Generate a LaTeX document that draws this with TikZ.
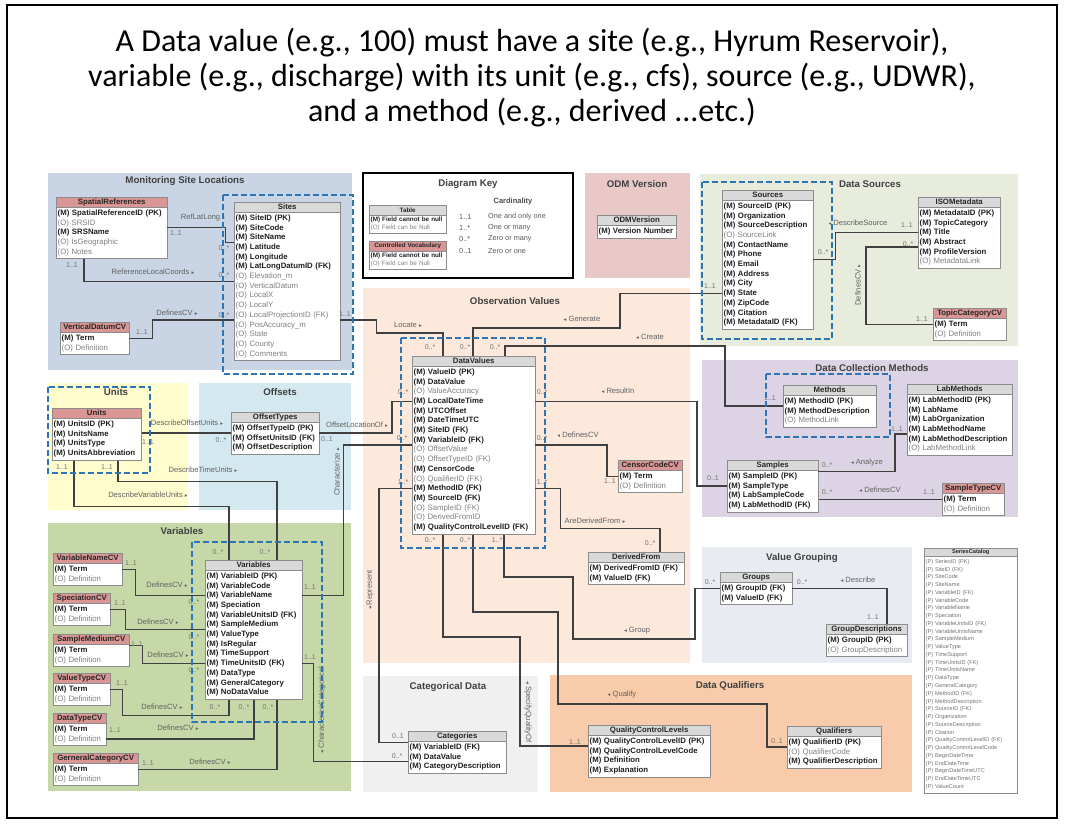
\documentclass[tikz,border=0pt]{standalone}
\usepackage{fontspec}
\setmainfont{Liberation Sans}
\newfontfamily\titlefont{Carlito}
\newfontfamily\djv{DejaVu Sans}
\newcommand\rtri{{\djv\fontsize{5.5}{5.5}\selectfont ▸}}
\newcommand\ltri{{\djv\fontsize{5.5}{5.5}\selectfont ◂}}
\definecolor{monbg}{RGB}{201,213,229}
\definecolor{srcbg}{RGB}{231,236,221}
\definecolor{odmbg}{RGB}{233,201,200}
\definecolor{unitbg}{RGB}{255,252,206}
\definecolor{offbg}{RGB}{211,232,239}
\definecolor{obsbg}{RGB}{252,233,220}
\definecolor{dcmbg}{RGB}{220,212,229}
\definecolor{varbg}{RGB}{199,216,168}
\definecolor{catbg}{RGB}{240,240,240}
\definecolor{dqbg}{RGB}{248,204,170}
\definecolor{vgbg}{RGB}{232,236,242}
\definecolor{cvred}{RGB}{218,150,148}
\definecolor{hdgray}{RGB}{217,217,217}
\definecolor{hlblue}{RGB}{46,117,182}
\def\tfs{7.8}\def\hdh{10}\def\rowh{9.7}\def\tpad{1.5}
\newcommand\rfont{\fontsize{\tfs}{\tfs}\selectfont}
\newcommand\hfont{\fontsize{\tfs}{\tfs}\selectfont\bfseries}
\tikzset{
 conn/.style={draw=black!75, line width=1.3pt},
 hdgray/.style={draw=black!45, fill=hdgray, font=\hfont, text=black!85, inner sep=0pt},
 hdred/.style={draw=black!45, fill=cvred, font=\hfont, text=black!85, inner sep=0pt},
 tbox/.style={draw=black!45, fill=white, line width=0.8pt, inner sep=0pt},
 rowM/.style={font=\rfont\bfseries, text=black!88},
 rowO/.style={font=\rfont, text=black!50},
 rowP/.style={font=\rfont, text=black!55},
 card/.style={font=\fontsize{7}{7}\selectfont, text=black!55, inner sep=0pt},
 rel/.style={font=\fontsize{7.6}{7.6}\selectfont, text=black!62, inner sep=0pt},
 grp/.style={font=\fontsize{9.7}{10}\selectfont\bfseries, text=black!75, inner sep=0pt},
 keytx/.style={font=\fontsize{7.3}{7.3}\selectfont, text=black!65, inner sep=0pt, anchor=west},
 hl/.style={draw=hlblue, line width=2.4pt, dash pattern=on 6pt off 3pt},
}
\newcommand\dbt[7]{%
  \foreach \rk/\rtx [count=\i] in {#7} {\xdef\nrw{\i}}%
  \pgfmathsetmacro\tbh{\hdh+2*\tpad+\nrw*\rowh}%
  \pgfmathsetmacro\tw{#4-3}%
  \node[tbox, minimum width=#4pt, minimum height=\tbh pt, anchor=north west] (#1) at (#2,#3) {};
  \node[hd#5, minimum width=#4pt, minimum height=\hdh pt, anchor=north west] (#1-h) at (#2,#3) {#6};
  \foreach \rk/\rtx [count=\i] in {#7} {
    \node[row\rk, text width=\tw pt, inner xsep=1.5pt, inner ysep=0pt, minimum height=\rowh pt, anchor=west, align=left] (#1-\i) at (#2, #3+\hdh+\tpad+\i*\rowh-0.5*\rowh) {(\rk)~\rtx};
  }%
}
\begin{document}
\begin{tikzpicture}[x=1pt,y=-1pt]
\useasboundingbox (0,0) rectangle (1066,826);
\fill[white] (0,0) rectangle (1066,826);
\draw[line width=1.4pt] (7,5) rectangle (1057,818);
\node[font=\titlefont\fontsize{32}{35}\selectfont, align=center, inner sep=0pt] (title) at (532,78)
 {A Data value (e.g., 100) must have a site (e.g., Hyrum Reservoir),\\ variable (e.g., discharge) with its unit (e.g., cfs), source (e.g., UDWR),\\ and a method (e.g., derived ...etc.)};
% ---------- regions
\fill[monbg] (48,173) rectangle (352,370);
\node[grp] (g-mon) at (185,181) {Monitoring Site Locations};
\draw[fill=white, line width=1.2pt] (363,173) rectangle (573,278);
\node[grp] (g-key) at (468,184) {Diagram Key};
\fill[odmbg] (585,173) rectangle (690,278);
\node[grp] (g-odm) at (637,184) {ODM Version};
\fill[srcbg] (700,174) rectangle (1018,346);
\node[grp] (g-src) at (870,184) {Data Sources};
\fill[unitbg] (48,383) rectangle (188,510);
\node[grp] (g-unit) at (116,392) {Units};
\fill[offbg] (199,383) rectangle (351,510);
\node[grp] (g-off) at (280,392) {Offsets};
\fill[obsbg] (363,288) rectangle (690,663);
\node[grp] (g-obs) at (515,301) {Observation Values};
\fill[dcmbg] (702,360) rectangle (1018,517);
\node[grp] (g-dcm) at (872,368) {Data Collection Methods};
\fill[varbg] (48,523) rectangle (351,791);
\node[grp] (g-var) at (182,531) {Variables};
\fill[catbg] (363,676) rectangle (538,792);
\node[grp] (g-cat) at (448,687) {Categorical Data};
\fill[dqbg] (550,675) rectangle (912,792);
\node[grp] (g-dq) at (730,686) {Data Qualifiers};
\fill[vgbg] (702,547) rectangle (912,663);
\node[grp] (g-vg) at (802,558) {Value Grouping};
% ---------- tables
\dbt{SR}{56}{197}{111}{red}{SpatialReferences}{M/SpatialReferenceID (PK),O/SRSID,M/SRSName,O/IsGeographic,O/Notes}
\dbt{Sites}{234}{202}{106}{gray}{Sites}{M/SiteID (PK),M/SiteCode,M/SiteName,M/Latitude,M/Longitude,M/LatLongDatumID (FK),O/Elevation\_m,O/VerticalDatum,O/LocalX,O/LocalY,O/LocalProjectionID (FK),O/PosAccuracy\_m,O/State,O/County,O/Comments}
\dbt{VD}{60}{322}{69}{red}{VerticalDatumCV}{M/Term,O/Definition}
\begin{scope}
\def\tfs{6.3}\def\rowh{7.5}
\dbt{KT}{369}{205}{77}{gray}{Table}{M/Field cannot be null,O/Field can be Null}
\dbt{KCV}{369}{241}{77}{red}{Controlled Vocabulary}{M/Field cannot be null,O/Field can be Null}
\end{scope}
\node[font=\fontsize{7.5}{8}\selectfont\bfseries, text=black!70, inner sep=0pt] (k-card) at (513,202) {Cardinality};
\node[keytx] (k1a) at (459,217) {1..1};
\node[keytx] (k1b) at (488,217) {One and only one};
\node[keytx] (k2a) at (459,228) {1..*};
\node[keytx] (k2b) at (488,228) {One or many};
\node[keytx] (k3a) at (459,239) {0..*};
\node[keytx] (k3b) at (488,239) {Zero or many};
\node[keytx] (k4a) at (459,251) {0..1};
\node[keytx] (k4b) at (488,251) {Zero or one};
\dbt{ODM}{597}{215}{79}{gray}{ODMVersion}{M/Version Number}
\dbt{Sources}{722}{190}{91}{gray}{Sources}{M/SourceID (PK),M/Organization,M/SourceDescription,O/SourceLink,M/ContactName,M/Phone,M/Email,M/Address,M/City,M/State,M/ZipCode,M/Citation,M/MetadataID (FK)}
\dbt{ISO}{918}{197}{82}{gray}{ISOMetadata}{M/MetadataID (PK),M/TopicCategory,M/Title,M/Abstract,M/ProfileVersion,O/MetadataLink}
\dbt{TC}{933}{308}{73}{red}{TopicCategoryCV}{M/Term,O/Definition}
\dbt{Units}{52}{408}{89}{red}{Units}{M/UnitsID (PK),M/UnitsName,M/UnitsType,M/UnitsAbbreviation}
\dbt{OT}{231}{412}{88}{gray}{OffsetTypes}{M/OffsetTypeID (PK),M/OffsetUnitsID (FK),M/OffsetDescription}
\dbt{DV}{412}{356}{123}{gray}{DataValues}{M/ValueID (PK),M/DataValue,O/ValueAccuracy,M/LocalDateTime,M/UTCOffset,M/DateTimeUTC,M/SiteID (FK),M/VariableID (FK),O/OffsetValue,O/OffsetTypeID (FK),M/CensorCode,O/QualifierID (FK),M/MethodID (FK),M/SourceID (FK),O/SampleID (FK),O/DerivedFromID,M/QualityControlLevelID (FK)}
\dbt{CC}{618}{460}{64}{red}{CensorCodeCV}{M/Term,O/Definition}
\dbt{DF}{588}{552}{96}{gray}{DerivedFrom}{M/DerivedFromID (FK),M/ValueID (FK)}
\dbt{Methods}{783}{385}{93}{gray}{Methods}{M/MethodID (PK),M/MethodDescription,O/MethodLink}
\dbt{LM}{907}{384}{105}{gray}{LabMethods}{M/LabMethodID (PK),M/LabName,M/LabOrganization,M/LabMethodName,M/LabMethodDescription,O/LabMethodLink}
\dbt{Samples}{727}{460}{91}{gray}{Samples}{M/SampleID (PK),M/SampleType,M/LabSampleCode,M/LabMethodID (FK)}
\dbt{STC}{942}{483}{62}{red}{SampleTypeCV}{M/Term,O/Definition}
\dbt{Var}{205}{560}{97}{gray}{Variables}{M/VariableID (PK),M/VariableCode,M/VariableName,M/Speciation,M/VariableUnitsID (FK),M/SampleMedium,M/ValueType,M/IsRegular,M/TimeSupport,M/TimeUnitsID (FK),M/DataType,M/GeneralCategory,M/NoDataValue}
\dbt{VNC}{53}{553}{69}{red}{VariableNameCV}{M/Term,O/Definition}
\dbt{SpC}{53}{593}{57}{red}{SpeciationCV}{M/Term,O/Definition}
\dbt{SMC}{53}{634}{76}{red}{SampleMediumCV}{M/Term,O/Definition}
\dbt{VTC}{53}{673}{57}{red}{ValueTypeCV}{M/Term,O/Definition}
\dbt{DTC}{53}{713}{53}{red}{DataTypeCV}{M/Term,O/Definition}
\dbt{GCC}{53}{753}{85}{red}{GerneralCategoryCV}{M/Term,O/Definition}
\dbt{Cat}{408}{731}{98}{gray}{Categories}{M/VariableID (FK),M/DataValue,M/CategoryDescription}
\dbt{QCL}{588}{725}{122}{gray}{QualityControlLevels}{M/QualityControlLevelID (PK),M/QualityControlLevelCode,M/Definition,M/Explanation}
\dbt{Q}{787}{726}{94}{gray}{Qualifiers}{M/QualifierID (PK),O/QualifierCode,M/QualifierDescription}
\dbt{Groups}{720}{572}{72}{gray}{Groups}{M/GroupID (FK),M/ValueID (FK)}
\dbt{GD}{826}{624}{81}{gray}{GroupDescriptions}{M/GroupID (PK),O/GroupDescription}
\begin{scope}
\def\tfs{5.6}\def\hdh{8}\def\rowh{7.76}\def\tpad{2}
\dbt{SC}{924}{548}{93}{gray}{SeriesCatalog}{P/SeriesID (PK),P/SiteID (FK),P/SiteCode,P/SiteName,P/VariableID (FK),P/VariableCode,P/VariableName,P/Speciation,P/VariableUnitsID (FK),P/VariableUnitsName,P/SampleMedium,P/ValueType,P/TimeSupport,P/TimeUnitsID (FK),P/TimeUnitsName,P/DataType,P/GeneralCategory,P/MethodID (FK),P/MethodDescription,P/SourceID (FK),P/Organization,P/SourceDescription,P/Citation,P/QualityControlLevelID (FK),P/QualityControlLevelCode,P/BeginDateTime,P/EndDateTime,P/BeginDateTimeUTC,P/EndDateTimeUTC,P/ValueCount}
\end{scope}
% ---------- connectors
\draw[conn] (SR-3.north east) -- ++(58,0) |- (Sites-4.north west);
\draw[conn] ([xshift=28pt]SR.south west) |- (Sites-8.north west);
\draw[conn] (VD-1.east) -- ++(23,0) |- (Sites-12.north west);
\draw[conn] (Sites-12.north east) -- ++(36,0) -- ++(0,13) -| ([xshift=31pt]DV.north west);
\draw[conn] ([xshift=61pt]DV.north west) |- (620,328) |- (Sources-10.west);
\draw[conn] ([xshift=93pt]DV.north west) |- (725,346) |- (Methods-2.north west);
\draw[conn] (DV-4.east) -| ([xshift=-30pt]Samples-2.west) -- (Samples-2.west);
\draw[conn] (DV-9.north east) -| ([xshift=-11pt]CC-1.west) -- (CC-1.west);
\draw[conn] (DV-13.east) -- ++(25,0) -- ++(0,40) -| ([xshift=72pt]DF.north west);
\draw[conn] (Units.east |- OT-2.north west) -- (OT-2.north west);
\draw[conn] (OT-2.north east) -| ([xshift=-20pt]DV-4.west) -- (DV-4.west);
\draw[conn] (Var-3.east) -- ++(41,0) |- (DV-9.north west);
\draw[conn] (DV-13.west) -| ([xshift=-29pt]Cat-1.north west) -- (Cat-1.north west);
\draw[conn] (Var-10.east) -- ++(11,0) |- (Cat-3.north west);
\draw[conn] ([xshift=31pt]DV.south west) |- (520,637) |- (QCL-2.north west);
\draw[conn] ([xshift=61pt]DV.south west) |- (558,612) |- (767,704) |- (Q-2.north west);
\draw[conn] ([xshift=92pt]DV.south west) |- (573,577) |- (695,639) |- (Groups-1.west);
\draw[conn] (Groups-1.east) -| ([xshift=61pt]GD.north west);
\draw[conn] (Sources-7.north east) -- ++(22,0) |- (ISO-3.west);
\draw[conn] (ISO-5.north west) -| ([xshift=-67pt]TC-1.west) -- (TC-1.west);
\draw[conn] (Samples-1.north east) -| ([xshift=-12pt]LM-5.north west) -- (LM-5.north west);
\draw[conn] (Samples.east |- STC-1.west) -- (STC-1.west);
\draw[conn] ([xshift=22pt]Units.south west) -- ++(0,46) -| ([xshift=24pt]Var.north west);
\draw[conn] ([xshift=66pt]Units.south west) -- ++(0,21) -| ([xshift=72pt]Var.north west);
\draw[conn] (VNC-1.east) -- ++(13,0) |- (Var-3.west);
\draw[conn] (SpC-1.east) -- ++(15,0) |- (Var-7.north west);
\draw[conn] (SMC-1.north east) -- ++(13,0) |- (Var-10.west);
\draw[conn] (VTC-1.east) -- ++(12,0) -- ++(0,26) -| ([xshift=24pt]Var.south west);
\draw[conn] (DTC-2.east) -| ([xshift=49pt]Var.south west);
\draw[conn] (GCC-1.east) -| ([xshift=72pt]Var.south west);
% ---------- cardinalities
\foreach \x/\y/\t [count=\n] in {176/233/1..1,224/248/0..*,72/265/1..1,224/275/0..*,142/332/1..1,224/315/0..*,345/314/1..1,
 823/252/0..*,710/286/1..1,907/225/1..1,908/244/0..*,922/319/1..1,
 430/347/0..*,465/347/0..*,495/347/0..*,542/392/0..*,542/438/0..*,542/482/1..*,403/392/0..*,402/438/0..*,403/482/1..*,
 430/540/0..*,465/540/0..*,497/540/1..*,770/398/1..1,713/478/0..1,827/465/0..*,827/492/0..*,897/429/1..1,929/492/1..1,
 610/481/1..1,650/543/0..*,62/467/1..1,107/467/1..1,148/442/1..1,221/440/0..*,327/439/0..1,
 218/552/0..*,265/552/0..*,310/587/1..1,310/657/1..1,194/602/0..*,194/637/0..*,194/670/0..*,
 215/707/0..*,244/707/0..*,268/707/0..*,131/563/1..1,120/603/1..1,137/644/1..1,122/683/1..1,115/730/1..1,148/763/1..1,
 398/736/0..1,397/756/0..*,575/742/1..1,777/741/0..1,710/582/0..*,802/582/0..*,873/617/1..1}
 {\node[card] (card\n) at (\x,\y) {\t};}
% ---------- relation labels
\node[rel] (r1) at (203,218) {RefLatLong \rtri};
\node[rel] (r2) at (153,272) {ReferenceLocalCoords \rtri};
\node[rel] (r3) at (177,313) {DefinesCV \rtri};
\node[rel] (r4) at (408,325) {Locate \rtri};
\node[rel] (r5) at (582,319) {\ltri\ Generate};
\node[rel] (r6) at (650,337) {\ltri\ Create};
\node[rel] (r7) at (618,391) {\ltri\ ResultIn};
\node[rel] (r8) at (578,435) {\ltri\ DefinesCV};
\node[rel] (r9) at (595,521) {AreDerivedFrom \rtri};
\node[rel] (r10) at (357,425) {OffsetLocationOf \rtri};
\node[rel] (r11) at (187,423) {DescribeOffsetUnits \rtri};
\node[rel] (r12) at (203,470) {DescribeTimeUnits \rtri};
\node[rel] (r13) at (148,495) {DescribeVariableUnits \rtri};
\node[rel, rotate=90] (r14) at (337,472) {Characterize \rtri};
\node[rel, rotate=90] (r15) at (370,590) {\ltri\ Represent};
\node[rel, rotate=-90] (r16) at (528,712) {\ltri\ SpecifyQualityOf};
\node[rel, rotate=90] (r17) at (322,710) {\ltri\ CharacterizeCategorical};
\node[rel] (r18) at (637,631) {\ltri\ Group};
\node[rel] (r19) at (622,695) {\ltri\ Qualify};
\node[rel] (r20) at (858,580) {\ltri\ Describe};
\node[rel] (r21) at (858,223) {\ltri\ DescribeSource};
\node[rel, rotate=90] (r22) at (858,285) {DefinesCV \rtri};
\node[rel] (r23) at (867,463) {\ltri\ Analyze};
\node[rel] (r24) at (880,490) {\ltri\ DefinesCV};
\node[rel] (r25) at (167,585) {DefinesCV \rtri};
\node[rel] (r26) at (158,622) {DefinesCV \rtri};
\node[rel] (r27) at (168,655) {DefinesCV \rtri};
\node[rel] (r28) at (162,707) {DefinesCV \rtri};
\node[rel] (r29) at (178,728) {DefinesCV \rtri};
\node[rel] (r30) at (210,762) {DefinesCV \rtri};
% ---------- highlight boxes
\draw[hl] (223,195) rectangle (353,374);
\draw[hl] (702,182) rectangle (832,339);
\draw[hl] (48,387) rectangle (150,473);
\draw[hl] (401,338) rectangle (545,548);
\draw[hl] (766,374) rectangle (890,437);
\draw[hl] (192,542) rectangle (322,722);
\end{tikzpicture}
\end{document}
